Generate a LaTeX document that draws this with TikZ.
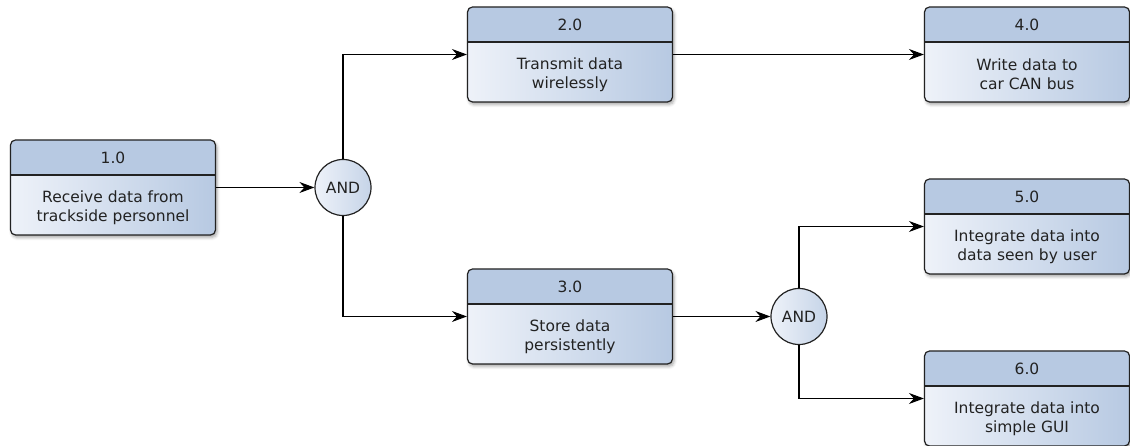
\documentclass[tikz,border=0pt]{standalone}
\usepackage{fontspec}
\setmainfont{DejaVu Sans}
\usetikzlibrary{positioning,shadows.blur,arrows.meta}
\definecolor{hdrblue}{HTML}{B7C9E2}
\definecolor{bodylight}{HTML}{EEF2F9}
\definecolor{edgegray}{HTML}{222222}

\begin{document}
\begin{tikzpicture}
		[x=1pt,y=1pt,node distance=230pt,on grid,
		proc/.style={draw=edgegray,line width=1.2pt,rounded corners=5pt,
			minimum width=205pt,minimum height=95pt,inner sep=0pt,
			left color=bodylight,right color=hdrblue,
			blur shadow={shadow xshift=1.5pt,shadow yshift=-2.5pt,shadow blur radius=3pt,shadow opacity=35},
			path picture={
				\fill[hdrblue,sharp corners] (path picture bounding box.north west)
					rectangle ([yshift=-35pt]path picture bounding box.north east);
				\draw[edgegray,line width=1.2pt] ([yshift=-35pt]path picture bounding box.north west)
					-- ([yshift=-35pt]path picture bounding box.north east);
			}},
		num/.style={anchor=center,yshift=-18pt,text=edgegray,font=\fontsize{15.5}{17}\selectfont},
		txt/.style={anchor=center,yshift=28pt,align=center,text=edgegray,font=\fontsize{15.5}{19}\selectfont},
		gate/.style={circle,draw=edgegray,line width=1.2pt,minimum size=56pt,inner sep=0pt,
			left color=bodylight,right color=hdrblue!80!white,text=edgegray,
			font=\fontsize{15.5}{17}\selectfont},
		flow/.style={-{Stealth[length=15pt,width=11pt,inset=5pt]},line width=1.1pt}]
		\useasboundingbox (0,0) rectangle (1130,446);
		% processes and gates
		\node[proc,label={[num]north:1.0},label={[txt]south:Receive data from\\trackside personnel}]
			(p1) at (113,258.5) {};
		\node[gate](and1) [right=230pt of p1] {AND};
		\node[proc,label={[num]north:2.0},label={[txt]south:Transmit data\\wirelessly}]
			(p2) [above right=133pt and 227pt of and1] {};
		\node[proc,label={[num]north:3.0},label={[txt]south:Store data\\persistently}]
			(p3) [below right=129pt and 227pt of and1] {};
		\node[gate](and2) [right=229pt of p3] {AND};
		\node[proc,label={[num]north:4.0},label={[txt]south:Write data to\\car CAN bus}]
			(p4) [right=457pt of p2] {};
		\node[proc,label={[num]north:5.0},label={[txt]south:Integrate data into\\data seen by user}]
			(p5) [above right=90pt and 228pt of and2] {};
		\node[proc,label={[num]north:6.0},label={[txt]south:Integrate data into\\simple GUI}]
			(p6) [below right=82pt and 228pt of and2] {};
		% data flow
		\draw[flow] (p1) -- (and1);
		\draw[flow] (and1) |- (p2);
		\draw[flow] (and1) |- (p3);
		\draw[flow] (p2) -- (p4);
		\draw[flow] (p3) -- (and2);
		\draw[flow] (and2) |- (p5);
		\draw[flow] (and2) |- (p6);
\end{tikzpicture}
\end{document}
